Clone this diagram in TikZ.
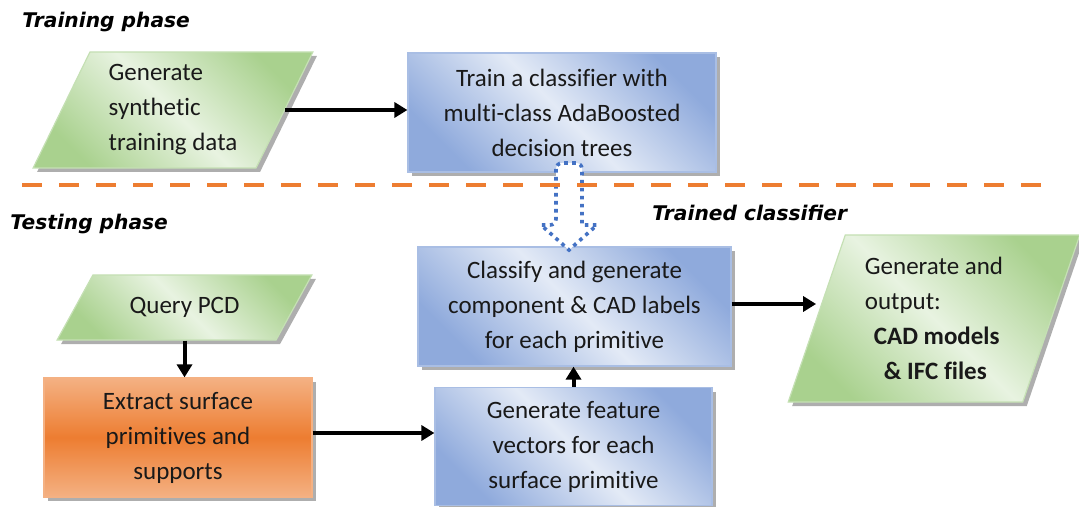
\documentclass[tikz,border=0pt]{standalone}
\usepackage{fontspec}
\setmainfont{Carlito}[Ligatures=NoCommon]
\newfontfamily\titlefont{DejaVu Sans}
\usetikzlibrary{shapes.geometric,arrows.meta,shadows}
\definecolor{bluedark}{HTML}{8FAADC}
\definecolor{bluelight}{HTML}{E3EAF6}
\definecolor{blueedge}{HTML}{A9BEE4}
\definecolor{greendark}{HTML}{A9D18E}
\definecolor{greenlight}{HTML}{E8F3E1}
\definecolor{greenedge}{HTML}{C5E0B4}
\definecolor{orangemid}{HTML}{ED7D31}
\definecolor{orangelight}{HTML}{F4B183}
\definecolor{orangeedge}{HTML}{F4B183}
\definecolor{dashorange}{HTML}{ED7D31}
\definecolor{arrowblue}{HTML}{4472C4}
\tikzset{
  base/.style={font=\fontsize{12.5}{17.5}\selectfont, text=black!90, inner sep=2pt,
    drop shadow={shadow xshift=2pt, shadow yshift=-2pt, fill=black!45, opacity=0.7}},
  bluebox/.style={base, rectangle, align=center, draw=blueedge, line width=0.6pt,
    left color=bluedark, right color=bluedark, middle color=bluelight, shading angle=135},
  orangebox/.style={base, rectangle, align=center, draw=orangeedge, line width=0.6pt,
    top color=orangelight, bottom color=orangelight, middle color=orangemid},
  greenpar/.style={base, trapezium, trapezium stretches=true, draw=greenedge, line width=0.6pt,
    left color=greendark, right color=greendark, middle color=greenlight, shading angle=135},
  title/.style={font=\titlefont\bfseries\itshape\fontsize{10.1}{12}\selectfont, anchor=west, inner sep=0pt},
  conn/.style={line width=2pt, -{Triangle[length=6.5pt, width=7.5pt]}},
  phaseline/.style={dashorange, line width=2pt, dash pattern=on 10pt off 8.5pt},
  blockarrow/.style={arrowblue, line width=1.8pt, dash pattern=on 1.8pt off 2.2pt, fill=white}
}
\begin{document}
\begin{tikzpicture}[x=0.5pt, y=-0.5pt]
\useasboundingbox (0,0) rectangle (1079,507);

% titles
\node[title] (ttrain) at (22,22) {Training phase};
\node[title] (ttest) at (10,224) {Testing phase};
\node[title] (tclass) at (652,213) {Trained classifier};

% training phase
\node[greenpar, align=left, trapezium left angle=64.6, trapezium right angle=115.4,
  minimum width=140pt, minimum height=58pt] (gen) at (173,110)
  {Generate\\synthetic\\training data};
\node[bluebox, minimum width=154pt, minimum height=59.5pt] (train) at (562,112.5)
  {Train a classifier with\\multi-class AdaBoosted\\decision trees};

% testing phase
\node[greenpar, align=center, trapezium left angle=50.8, trapezium right angle=129.2,
  minimum width=127.5pt, minimum height=32.5pt] (query) at (184.5,307.5) {Query PCD};
\node[orangebox, minimum width=134pt, minimum height=59.5pt] (extract) at (178,437.5)
  {Extract surface\\primitives and\\supports};
\node[bluebox, minimum width=138.5pt, minimum height=59pt] (feat) at (573.5,446.5)
  {Generate feature\\vectors for each\\surface primitive};
\node[bluebox, minimum width=156.5pt, minimum height=59.5pt] (classify) at (574.5,306.5)
  {Classify and generate\\component \& CAD labels\\for each primitive};
\node[greenpar, align=left, trapezium left angle=70.2, trapezium right angle=109.8,
  minimum width=146pt, minimum height=83.5pt] (out) at (934,318.5)
  {Generate and\\output:\\\hspace{4.5pt}\textbf{CAD models}\\\hspace{9.5pt}\textbf{\& IFC files}};

% trained classifier block arrow
\coordinate (bt) at (569,163);
\coordinate (bh) at (569,250);
\draw[blockarrow, rounded corners=3pt] ([xshift=-6.5pt]bt) -- ([xshift=-6.5pt, yshift=-31pt]bt) [sharp corners]
  -- ([xshift=-14pt, yshift=12.5pt]bh) -- (bh) -- ([xshift=14pt, yshift=12.5pt]bh)
  -- ([xshift=6.5pt, yshift=-31pt]bt) [rounded corners=3pt] -- ([xshift=6.5pt]bt) -- cycle;

% phase separator
\draw[phaseline] (22,185) -- (1050,185);

% connectors
\draw[conn] (gen.east) -- (gen.east -| train.west);
\draw[conn] (query.south) -- (query.south |- extract.north);
\draw[conn] ([yshift=2.25pt]extract.east) -- ([yshift=2.25pt]extract.east -| feat.west);
\draw[conn] (feat.north) -- (feat.north |- classify.south);
\draw[conn] ([yshift=1.25pt]classify.east) -- ([yshift=1.25pt]classify.east -| out.west);
\end{tikzpicture}
\end{document}
